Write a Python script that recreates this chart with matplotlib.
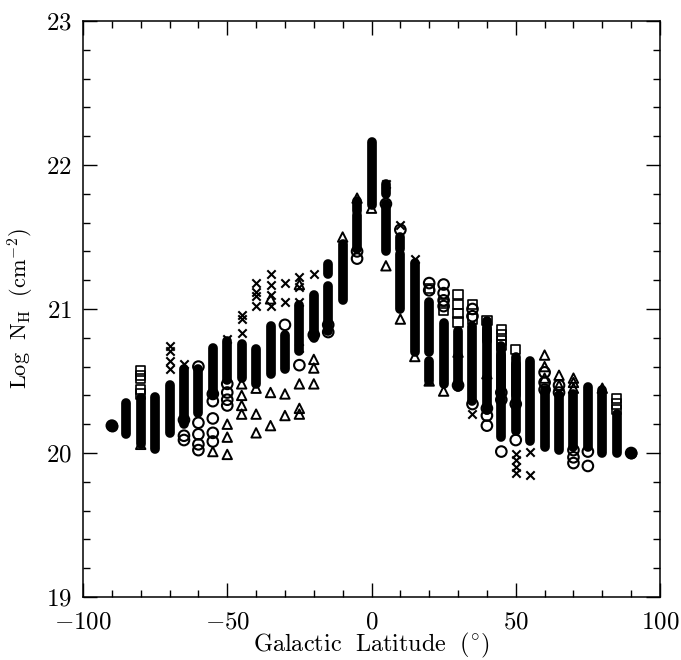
import matplotlib
matplotlib.use('Agg')
import matplotlib.pyplot as plt
from matplotlib.ticker import MultipleLocator

# solid runs where the symbols overlap into one black column
core_lat = [-85, -80, -75, -70, -65, -60, -55, -50, -45, -40, -35, -30, -25, -20,
            -15, -15, -10, -5, -5, 0, 5, 5, 10, 10, 15, 20, 20, 25, 30, 35, 40, 40, 45, 45,
            50, 50, 55, 60, 65, 70, 75, 80, 85]
core_low = [20.13, 20.06, 20.03, 20.14, 20.20, 20.28, 20.40, 20.51, 20.52, 20.48,
            20.55, 20.58, 20.71, 20.80, 20.85, 21.24, 21.06, 21.42, 21.68, 21.72, 21.80, 21.40,
            21.00, 21.42, 20.70, 20.70, 20.50, 20.48, 20.46, 20.36, 20.30, 20.78, 20.11, 20.45,
            20.15, 20.40, 20.08, 20.04, 20.02, 20.04, 20.04, 20.00, 20.00]
core_high = [20.35, 20.38, 20.39, 20.47, 20.58, 20.58, 20.73, 20.78, 20.76, 20.72,
             20.88, 20.82, 21.03, 21.10, 21.16, 21.31, 21.45, 21.65, 21.75, 22.16, 21.87, 21.73,
             21.38, 21.50, 21.32, 21.05, 20.64, 20.90, 20.85, 20.88, 20.86, 20.92, 20.74, 20.68,
             20.67, 20.62, 20.64, 20.44, 20.40, 20.41, 20.46, 20.44, 20.27]

circle_lat = [-90, -65, -65, -65, -60, -60, -60, -60, -60, -55, -55, -55, -55, -55,
              -50, -50, -50, -50, -30, -25, -20, -15, -15, -5, -5, 5, 10, 20, 20, 25, 25, 25, 25,
              30, 35, 35, 35, 40, 40, 40, 45, 45, 45, 50, 50, 60, 60, 60, 65, 65, 70, 70, 70,
              75, 75, 90]
circle_val = [20.19, 20.23, 20.12, 20.09, 20.60, 20.21, 20.13, 20.06, 20.02, 20.41, 20.36,
              20.24, 20.14, 20.08, 20.48, 20.42, 20.37, 20.33, 20.89, 20.61, 20.82, 20.84, 20.89,
              21.35, 21.40, 21.73, 21.55, 21.18, 21.13, 21.17, 21.11, 21.06, 21.02, 20.47, 21.00, 20.95, 20.34,
              20.31, 20.26, 20.19, 20.42, 20.37, 20.01, 20.34, 20.09, 20.56, 20.49, 20.44,
              20.47, 20.42, 20.02, 19.97, 19.93, 20.01, 19.91, 20.00]

tri_lat = [-80, -55, -50, -50, -50, -45, -45, -45, -45, -40, -40, -40, -35, -35, -35, -30,
           -30, -25, -25, -25, -25, -20, -20, -20, -10, -5, 0, 5, 10, 15, 20, 25, 30, 40, 60,
           60, 60, 65, 65, 70, 70, 70, 80]
tri_val = [20.06, 20.01, 20.20, 20.11, 19.99, 20.48, 20.40, 20.33, 20.27, 20.45, 20.27,
           20.14, 21.07, 20.42, 20.19, 20.41, 20.26, 21.17, 20.48, 20.31, 20.27, 20.65, 20.59,
           20.48, 21.50, 21.77, 21.70, 21.30, 20.93, 20.67, 20.50, 20.43, 20.70, 20.55, 20.68,
           20.60, 20.52, 20.54, 20.47, 20.52, 20.49, 20.45, 20.45]

cross_lat = [-70, -70, -70, -70, -65, -50, -45, -45, -45, -40, -40, -40, -40, -35, -35, -35,
             -35, -30, -30, -25, -25, -25, -25, -20, 5, 10, 15, 35, 50, 50, 50, 50, 55, 55]
cross_val = [20.74, 20.71, 20.64, 20.58, 20.62, 20.79, 20.96, 20.93, 20.83, 21.18, 21.12,
             21.09, 21.02, 21.24, 21.17, 21.10, 21.02, 21.18, 21.05, 21.22, 21.15, 21.05, 20.73,
             21.24, 21.87, 21.58, 21.35, 20.27, 19.99, 19.95, 19.90, 19.86, 20.01, 19.85]

square_lat = [-80, -80, -80, -80, -80, 20, 25, 25, 30, 30, 30, 30, 35, 35, 40, 45, 45, 45,
              45, 50, 85, 85, 85]
square_val = [20.57, 20.54, 20.52, 20.44, 20.41, 21.14, 21.04, 20.99, 21.10, 21.03, 20.97,
              20.91, 21.03, 20.93, 20.92, 20.86, 20.82, 20.78, 20.75, 20.72, 20.38, 20.34, 20.30]

x_ticks = [-100, -50, 0, 50, 100]
x_labels = ['$-100$', '$-50$', '$0$', '$50$', '$100$']
y_ticks = [19, 20, 21, 22, 23]
y_labels = ['$19$', '$20$', '$21$', '$22$', '$23$']

plt.rcParams['mathtext.fontset'] = 'cm'
plt.rcParams['font.family'] = ['cmr10', 'Liberation Serif']
plt.rcParams['axes.unicode_minus'] = False

fig = plt.figure(figsize=(6.81, 6.60), dpi=100)
ax = fig.add_axes([83 / 681, 1 - 597 / 660, 577 / 681, 576 / 660])

ax.vlines(core_lat, core_low, core_high, colors='black', linewidth=7.0, capstyle='round', zorder=2)
ms = 58
ax.scatter(circle_lat, circle_val, s=ms, marker='o', facecolors='none', edgecolors='black', linewidths=1.5, zorder=3)
ax.scatter(tri_lat, tri_val, s=ms - 12, marker='^', facecolors='none', edgecolors='black', linewidths=1.4, zorder=3)
ax.scatter(cross_lat, cross_val, s=ms - 22, marker='x', color='black', linewidths=1.5, zorder=3)
ax.scatter(square_lat, square_val, s=ms - 14, marker='s', facecolors='none', edgecolors='black', linewidths=1.2, zorder=3)
# end points are filled in the original
ax.scatter([-90, 90], [20.19, 20.00], s=ms, marker='o', color='black', zorder=4)

ax.set_xlim(-100, 100)
ax.set_ylim(19, 23)
ax.set_xticks(x_ticks)
ax.set_xticklabels(x_labels)
ax.set_yticks(y_ticks)
ax.set_yticklabels(y_labels)
ax.xaxis.set_minor_locator(MultipleLocator(10))
ax.yaxis.set_minor_locator(MultipleLocator(0.2))
ax.tick_params(which='major', direction='in', length=10, width=1.0, top=True, right=True, labelsize=18, pad=8)
ax.tick_params(which='minor', direction='in', length=5, width=1.0, top=True, right=True)
ax.tick_params(axis='x', which='major', pad=10)
for s in ax.spines.values():
    s.set_linewidth(1.1)

ax.set_xlabel(r'$\mathrm{Galactic\ \ Latitude\ \ (^{\circ})}$', fontsize=17.5)
ax.xaxis.set_label_coords(0.5, -0.059)
ax.set_ylabel(r'$\mathrm{Log\ \ N_{H}\ \ (cm^{-2})}$', fontsize=16)
ax.yaxis.set_label_coords(-0.081, 0.5)

fig.savefig('out.png', dpi=100)
